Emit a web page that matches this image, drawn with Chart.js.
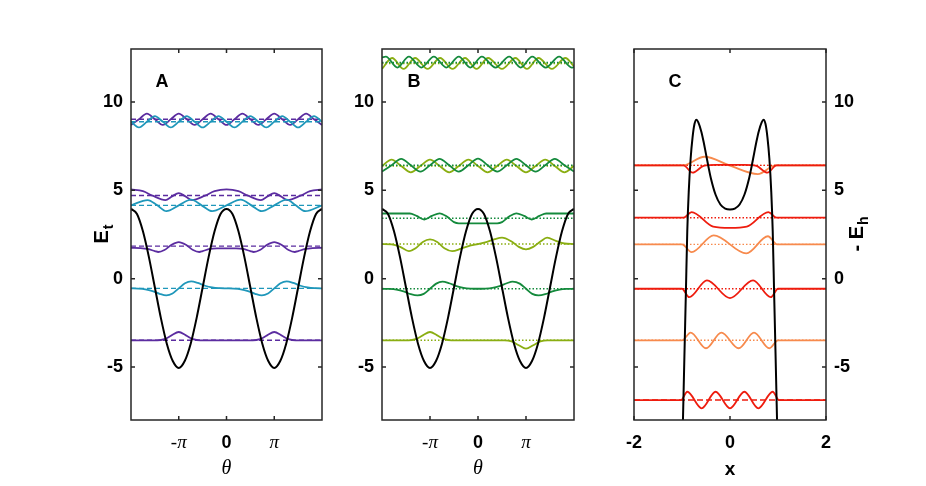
<!DOCTYPE html>
<html>
<head>
<meta charset="utf-8">
<script src="https://cdn.jsdelivr.net/npm/chart.js@4.4.1/dist/chart.umd.min.js"></script>
<style>
html, body { margin: 0; padding: 0; background: #fff; }
#wrap { position: relative; width: 926px; height: 486px; }
#wrap canvas { position: absolute; left: 0; top: 0; width: 926px; height: 486px; }
</style>
</head>
<body>
<div id="wrap">
<canvas id="panelA" width="926" height="486"></canvas>
<canvas id="panelB" width="926" height="486"></canvas>
<canvas id="panelC" width="926" height="486"></canvas>
</div>
<script>
// ---- data (theta given in units of pi) ----
const yTickValues = [-5, 0, 5, 10];
const thetaTickValues = [-1, 0, 1];
const thetaTickLabels = ['-π', '0', 'π'];
const xTickValuesC = [-2, 0, 2];

// cosine potential, shared by panels A and B
const thetaFine = [-2,-1.875,-1.75,-1.625,-1.5,-1.375,-1.25,-1.125,-1,-0.875,-0.75,-0.625,-0.5,-0.375,-0.25,-0.125,0,0.125,0.25,0.375,0.5,0.625,0.75,0.875,1,1.125,1.25,1.375,1.5,1.625,1.75,1.875,2];
const vTheta = [3.95,3.66,2.68,1.22,-0.5,-2.22,-3.68,-4.66,-5.05,-4.66,-3.68,-2.22,-0.5,1.22,2.68,3.66,3.95,3.66,2.68,1.22,-0.5,-2.22,-3.68,-4.66,-5.05,-4.66,-3.68,-2.22,-0.5,1.22,2.68,3.66,3.95];

// panel A
const levelsA = [-3.49, -0.55, 1.84, 4.15, 4.71, 8.88, 9.02];
const aPsi1 = [[-2,-3.49],[-1.45,-3.49],[-1.3,-3.425],[-1.15,-3.21],[-1,-3.02],[-0.85,-3.21],[-0.7,-3.425],[-0.55,-3.49],[0.55,-3.49],[0.7,-3.425],[0.85,-3.21],[1,-3.02],[1.15,-3.21],[1.3,-3.425],[1.45,-3.49],[2,-3.49]];
const aPsi2 = [[-2,-0.55],[-1.85,-0.56],[-1.7,-0.6],[-1.55,-0.7],[-1.4,-0.86],[-1.26,-0.95],[-1.13,-0.84],[-1,-0.55],[-0.87,-0.26],[-0.74,-0.15],[-0.6,-0.24],[-0.45,-0.4],[-0.3,-0.5],[-0.15,-0.54],[0,-0.55],[0.15,-0.56],[0.3,-0.6],[0.45,-0.7],[0.6,-0.86],[0.74,-0.95],[0.87,-0.84],[1,-0.55],[1.13,-0.26],[1.26,-0.15],[1.4,-0.24],[1.55,-0.4],[1.7,-0.5],[1.85,-0.54],[2,-0.55]];
const aPsi3 = [[-2,1.75],[-1.8,1.73],[-1.65,1.68],[-1.5,1.56],[-1.43,1.51],[-1.3,1.62],[-1.15,1.92],[-1,2.07],[-0.85,1.92],[-0.7,1.62],[-0.57,1.51],[-0.5,1.56],[-0.35,1.68],[-0.2,1.71],[0,1.71],[0.2,1.71],[0.35,1.68],[0.5,1.56],[0.57,1.51],[0.7,1.62],[0.85,1.92],[1,2.07],[1.15,1.92],[1.3,1.62],[1.43,1.51],[1.5,1.56],[1.65,1.68],[1.8,1.73],[2,1.75]];
const aPsi4 = [[-2,4.15],[-1.65,4.45],[-1.45,4.15],[-1.26,3.82],[-1,4.15],[-0.74,4.47],[-0.52,4.15],[-0.3,3.82],[0,4.15],[0.3,4.47],[0.52,4.15],[0.74,3.82],[1,4.15],[1.26,4.47],[1.45,4.15],[1.65,3.82],[2,4.15]];
const aPsi5 = [[-2,5.05],[-1.75,4.95],[-1.55,4.7],[-1.28,4.45],[-1.14,4.66],[-1,4.84],[-0.86,4.66],[-0.72,4.45],[-0.45,4.7],[-0.25,4.95],[0,5.05],[0.25,4.95],[0.45,4.7],[0.72,4.45],[0.86,4.66],[1,4.84],[1.14,4.66],[1.28,4.45],[1.55,4.7],[1.75,4.95],[2,5.05]];
const thetaSixths = [-2,-1.833,-1.667,-1.5,-1.333,-1.167,-1,-0.833,-0.667,-0.5,-0.333,-0.167,0,0.167,0.333,0.5,0.667,0.833,1,1.167,1.333,1.5,1.667,1.833,2];
const aPsi6 = [8.88,8.56,8.88,9.2,8.88,8.56,8.88,9.2,8.88,8.56,8.88,9.2,8.88,8.56,8.88,9.2,8.88,8.56,8.88,9.2,8.88,8.56,8.88,9.2,8.88];
const aPsi7 = [8.7,9.02,9.34,9.02,8.7,9.02,9.34,9.02,8.7,9.02,9.34,9.02,8.7,9.02,9.34,9.02,8.7,9.02,9.34,9.02,8.7,9.02,9.34,9.02,8.7];

// panel B
const levelsB = [-3.49, -0.57, 1.96, 3.42, 6.42, 6.38, 12.24, 12.18];
const bPsi1 = [[-2,-3.49],[-1.45,-3.49],[-1.3,-3.425],[-1.15,-3.21],[-1,-3.02],[-0.85,-3.21],[-0.7,-3.425],[-0.55,-3.49],[0.55,-3.49],[0.7,-3.555],[0.85,-3.77],[1,-3.96],[1.15,-3.77],[1.3,-3.555],[1.45,-3.49],[2,-3.49]];
const bPsi2 = [[-2,-0.57],[-1.85,-0.58],[-1.7,-0.62],[-1.55,-0.72],[-1.4,-0.88],[-1.26,-0.95],[-1.13,-0.86],[-1,-0.57],[-0.87,-0.28],[-0.74,-0.17],[-0.6,-0.26],[-0.45,-0.42],[-0.3,-0.52],[-0.15,-0.56],[0,-0.57],[0.15,-0.56],[0.3,-0.52],[0.45,-0.42],[0.6,-0.26],[0.72,-0.17],[0.87,-0.28],[1,-0.57],[1.13,-0.86],[1.26,-0.95],[1.4,-0.88],[1.55,-0.72],[1.7,-0.62],[1.85,-0.58],[2,-0.57]];
const bPsi3 = [[-2,1.96],[-1.8,1.94],[-1.62,1.8],[-1.44,1.56],[-1.3,1.72],[-1.15,2.08],[-1,2.22],[-0.85,2.08],[-0.7,1.72],[-0.54,1.56],[-0.35,1.7],[-0.15,1.88],[0,1.96],[0.15,2.06],[0.35,2.24],[0.5,2.32],[0.7,2.1],[0.85,1.8],[1,1.66],[1.15,1.8],[1.3,2.1],[1.44,2.32],[1.62,2.14],[1.8,1.99],[2,1.96]];
const bPsi4 = [[-2,3.69],[-1.42,3.69],[-1.28,3.55],[-1.12,3.35],[-0.96,3.55],[-0.8,3.7],[-0.64,3.5],[-0.5,3.2],[-0.4,3.13],[0,3.13],[0.4,3.13],[0.5,3.2],[0.64,3.5],[0.8,3.7],[0.96,3.55],[1.12,3.35],[1.28,3.55],[1.42,3.69],[2,3.69]];
const thetaFifths = [-2,-1.8,-1.6,-1.4,-1.2,-1,-0.8,-0.6,-0.4,-0.2,0,0.2,0.4,0.6,0.8,1,1.2,1.4,1.6,1.8,2];
const bPsi5 = [6.06,6.42,6.78,6.42,6.06,6.42,6.78,6.42,6.06,6.42,6.8,6.42,6.06,6.42,6.78,6.42,6.06,6.42,6.78,6.42,6.06];
const bPsi6 = [6.38,6.74,6.38,6.02,6.38,6.74,6.38,6.02,6.38,6.74,6.38,6.02,6.38,6.74,6.38,6.02,6.38,6.74,6.38,6.02,6.38];
const bPsi7 = [[-2,12.52],[-1.92,12.57],[-1.68,11.95],[-1.44,12.57],[-1.18,11.95],[-0.92,12.57],[-0.66,11.95],[-0.4,12.57],[-0.16,11.95],[0.08,12.57],[0.365,11.95],[0.65,12.57],[0.89,11.95],[1.13,12.57],[1.41,11.95],[1.69,12.57],[1.95,11.95],[2,11.97]];
const bPsi8 = [[-2,11.88],[-1.79,12.49],[-1.55,11.87],[-1.31,12.49],[-1.05,11.87],[-0.79,12.49],[-0.53,11.87],[-0.27,12.49],[-0.03,11.87],[0.21,12.49],[0.5,11.87],[0.78,12.49],[1.02,11.87],[1.26,12.49],[1.54,11.87],[1.82,12.49],[2,12.02]];

// panel C (x)
const cPot = [[-1.0,-10.4],[-0.98,-8.0],[-0.95,-4.4],[-0.92,-0.9],[-0.89,2.7],[-0.86,4.9],[-0.82,6.8],[-0.78,8.0],[-0.74,8.75],[-0.7,9.0],[-0.66,8.85],[-0.6,8.35],[-0.55,7.75],[-0.5,7.05],[-0.45,6.35],[-0.4,5.7],[-0.3,4.75],[-0.2,4.2],[-0.1,3.97],[0,3.92],[0.1,3.97],[0.2,4.2],[0.3,4.75],[0.4,5.7],[0.45,6.35],[0.5,7.05],[0.55,7.75],[0.6,8.35],[0.66,8.85],[0.7,9.0],[0.74,8.75],[0.78,8.0],[0.82,6.8],[0.86,4.9],[0.89,2.7],[0.92,-0.9],[0.95,-4.4],[0.98,-8.0],[1.0,-10.4]];
const levelsC = [-6.87, -3.49, -0.57, 1.94, 3.45, 6.41, 6.41];
const cPsi1 = [[-2,-6.87],[-1.02,-6.87],[-0.89,-6.4],[-0.59,-7.34],[-0.3,-6.4],[0,-7.34],[0.3,-6.4],[0.59,-7.34],[0.89,-6.4],[1.02,-6.87],[2,-6.87]];
const cPsi2 = [[-2,-3.49],[-1.0,-3.49],[-0.82,-3.05],[-0.5,-3.94],[-0.18,-3.05],[0.18,-3.94],[0.5,-3.05],[0.82,-3.94],[1.0,-3.49],[2,-3.49]];
const cPsi3 = [[-2,-0.57],[-1.0,-0.57],[-0.85,-1.05],[-0.48,-0.1],[0,-1.1],[0.48,-0.1],[0.85,-1.05],[1.0,-0.57],[2,-0.57]];
const cPsi4 = [[-2,1.94],[-1.0,1.94],[-0.8,1.5],[-0.34,2.45],[0.34,1.43],[0.79,2.4],[0.98,1.94],[2,1.94]];
const cPsi5 = [[-2,3.45],[-0.97,3.45],[-0.8,3.77],[-0.35,2.95],[0,2.88],[0.35,2.95],[0.8,3.77],[0.97,3.45],[2,3.45]];
const cPsi6 = [[-2,6.41],[-0.97,6.41],[-0.78,6.0],[-0.55,6.38],[-0.3,6.44],[0,6.44],[0.3,6.44],[0.55,6.38],[0.78,6.0],[0.97,6.41],[2,6.41]];
const cPsi7 = [[-2,6.41],[-0.98,6.41],[-0.53,6.9],[0,6.4],[0.58,5.92],[0.95,6.41],[2,6.41]];

// ---- colours ----
const PURPLE = '#5b2ca0';
const TEAL = '#1f97ba';
const DKGREEN = '#148a3c';
const LIME = '#8aae12';
const RED = '#ee1c0e';
const ORANGE = '#f78a4d';
const AXIS = '#262626';
const SANS = '"Liberation Sans", Arial, Helvetica, sans-serif';
const SERIF = '"Liberation Serif", "Times New Roman", serif';

Chart.defaults.font.family = SANS;
Chart.defaults.color = '#000';

function zip(xs, ys) {
    return xs.map((x, i) => [x, ys[i]]);
}

function curveSet(points, color, width) {
    return {
        data: points.map(p => ({ x: p[0], y: p[1] })),
        borderColor: color,
        borderWidth: width || 1.8,
        pointRadius: 0,
        cubicInterpolationMode: 'monotone',
        fill: false
    };
}

function levelSet(energy, color, dash) {
    return {
        data: [{ x: -2, y: energy }, { x: 2, y: energy }],
        borderColor: color,
        borderWidth: 1.4,
        borderDash: dash,
        pointRadius: 0,
        fill: false
    };
}

// box round the axes with inward ticks, panel letter and the y label with subscript
const boxPlugin = {
    id: 'matlabBox',
    afterDatasetsDraw(chart, args, opts) {
        const { ctx, chartArea: a } = chart;
        const xs = chart.scales.x, ys = chart.scales.y;
        ctx.save();
        ctx.strokeStyle = AXIS;
        ctx.lineWidth = 1.5;
        ctx.beginPath();
        xs.ticks.forEach(t => {
            const px = xs.getPixelForValue(t.value);
            ctx.moveTo(px, a.bottom); ctx.lineTo(px, a.bottom - 4);
            ctx.moveTo(px, a.top); ctx.lineTo(px, a.top + 4);
        });
        ys.ticks.forEach(t => {
            const py = ys.getPixelForValue(t.value);
            ctx.moveTo(a.left, py); ctx.lineTo(a.left + 4, py);
            ctx.moveTo(a.right, py); ctx.lineTo(a.right - 4, py);
        });
        ctx.stroke();
        ctx.strokeRect(a.left, a.top, a.right - a.left, a.bottom - a.top);

        ctx.fillStyle = '#000';
        ctx.font = 'bold 18px ' + SANS;
        ctx.textAlign = 'center';
        ctx.textBaseline = 'middle';
        ctx.fillText(opts.letter, a.left + opts.letterDx, a.top + 33);

        if (opts.yTitle) {
            const t = opts.yTitle;
            ctx.translate(t.x, (a.top + a.bottom) / 2);
            ctx.rotate(-Math.PI / 2);
            ctx.textAlign = 'left';
            ctx.textBaseline = 'alphabetic';
            ctx.font = 'bold 20px ' + SANS;
            const w1 = ctx.measureText(t.main).width;
            ctx.font = 'bold 14px ' + SANS;
            const w2 = ctx.measureText(t.sub).width;
            const x0 = -(w1 + w2) / 2;
            ctx.font = 'bold 20px ' + SANS;
            ctx.fillText(t.main, x0, 7);
            ctx.font = 'bold 14px ' + SANS;
            ctx.fillText(t.sub, x0 + w1 + 1, 12);
        }
        ctx.restore();
    }
};

function thetaTickFont(c) {
    if (c.tick && c.tick.value !== 0) {
        return { family: SERIF, style: 'italic', size: 19, weight: 'normal' };
    }
    return { family: SANS, size: 18, weight: 'bold' };
}

function panelOptions(cfg) {
    return {
        responsive: false,
        animation: false,
        events: [],
        layout: { padding: cfg.padding },
        plugins: {
            legend: { display: false },
            tooltip: { enabled: false },
            matlabBox: cfg.box
        },
        scales: {
            x: {
                type: 'linear',
                min: -2,
                max: 2,
                grid: { display: false, drawTicks: false },
                border: { display: false },
                afterBuildTicks: s => { s.ticks = cfg.xTicks.map(v => ({ value: v })); },
                afterFit: s => { s.height = 66; s.paddingLeft = 0; s.paddingRight = 0; },
                ticks: {
                    padding: 12,
                    autoSkip: false,
                    maxRotation: 0,
                    color: '#000',
                    font: cfg.xTickFont,
                    callback: cfg.xLabel
                },
                title: {
                    display: true,
                    text: cfg.xTitle,
                    font: cfg.xTitleFont,
                    color: '#000',
                    padding: { top: 0, bottom: 5 }
                }
            },
            y: {
                type: 'linear',
                position: cfg.yPos,
                min: -8,
                max: 13,
                grid: { display: false, drawTicks: false },
                border: { display: false },
                afterBuildTicks: s => { s.ticks = yTickValues.map(v => ({ value: v })); },
                afterFit: s => { s.width = cfg.yWidth; s.paddingTop = 0; s.paddingBottom = 0; },
                ticks: {
                    padding: 8,
                    color: '#000',
                    font: { size: 18, weight: 'bold' },
                    callback: v => String(v)
                }
            }
        }
    };
}

const thetaLabel = v => thetaTickLabels[thetaTickValues.indexOf(v)];

// ---- panel A ----
const colorsA = [PURPLE, TEAL, PURPLE, TEAL, PURPLE, TEAL, PURPLE];
const psiA = [aPsi1, aPsi2, aPsi3, aPsi4, aPsi5, zip(thetaSixths, aPsi6), zip(thetaSixths, aPsi7)];
const dsA = [curveSet(zip(thetaFine, vTheta), '#000', 2)];
levelsA.forEach((e, i) => {
    dsA.push(curveSet(psiA[i], colorsA[i]));
    dsA.push(levelSet(e, colorsA[i], [5, 3]));
});

new Chart(document.getElementById('panelA'), {
    type: 'line',
    data: { datasets: dsA },
    options: panelOptions({
        padding: { left: 0, right: 604, top: 49, bottom: 0 },
        yWidth: 131,
        yPos: 'left',
        xTicks: thetaTickValues,
        xLabel: thetaLabel,
        xTickFont: thetaTickFont,
        xTitle: 'θ',
        xTitleFont: { family: SERIF, style: 'italic', size: 20 },
        box: { letter: 'A', letterDx: 31, yTitle: { main: 'E', sub: 't', x: 101 } }
    }),
    plugins: [boxPlugin]
});

// ---- panel B ----
const colorsB = [LIME, DKGREEN, LIME, DKGREEN, DKGREEN, LIME, DKGREEN, LIME];
const psiB = [bPsi1, bPsi2, bPsi3, bPsi4, zip(thetaFifths, bPsi5), zip(thetaFifths, bPsi6), bPsi7, bPsi8];
const dsB = [curveSet(zip(thetaFine, vTheta), '#000', 2)];
levelsB.forEach((e, i) => {
    dsB.push(curveSet(psiB[i], colorsB[i]));
    dsB.push(levelSet(e, colorsB[i], [1.5, 2]));
});

new Chart(document.getElementById('panelB'), {
    type: 'line',
    data: { datasets: dsB },
    options: panelOptions({
        padding: { left: 342, right: 352, top: 49, bottom: 0 },
        yWidth: 40,
        yPos: 'left',
        xTicks: thetaTickValues,
        xLabel: thetaLabel,
        xTickFont: thetaTickFont,
        xTitle: 'θ',
        xTitleFont: { family: SERIF, style: 'italic', size: 20 },
        box: { letter: 'B', letterDx: 32 }
    }),
    plugins: [boxPlugin]
});

// ---- panel C ----
const colorsC = [RED, ORANGE, RED, ORANGE, RED, RED, ORANGE];
const psiC = [cPsi1, cPsi2, cPsi3, cPsi4, cPsi5, cPsi6, cPsi7];
const dsC = [curveSet(cPot, '#000', 2)];
levelsC.forEach((e, i) => {
    dsC.push(curveSet(psiC[i], colorsC[i]));
    dsC.push(levelSet(e, colorsC[i], i === 0 ? [6, 3] : [1.5, 2]));
});

new Chart(document.getElementById('panelC'), {
    type: 'line',
    data: { datasets: dsC },
    options: panelOptions({
        padding: { left: 634, right: 40, top: 49, bottom: 0 },
        yWidth: 60,
        yPos: 'right',
        xTicks: xTickValuesC,
        xLabel: v => String(v),
        xTickFont: { family: SANS, size: 18, weight: 'bold' },
        xTitle: 'x',
        xTitleFont: { family: SANS, size: 19, weight: 'bold' },
        box: { letter: 'C', letterDx: 41, yTitle: { main: '- E', sub: 'h', x: 856 } }
    }),
    plugins: [boxPlugin]
});
</script>
</body>
</html>
